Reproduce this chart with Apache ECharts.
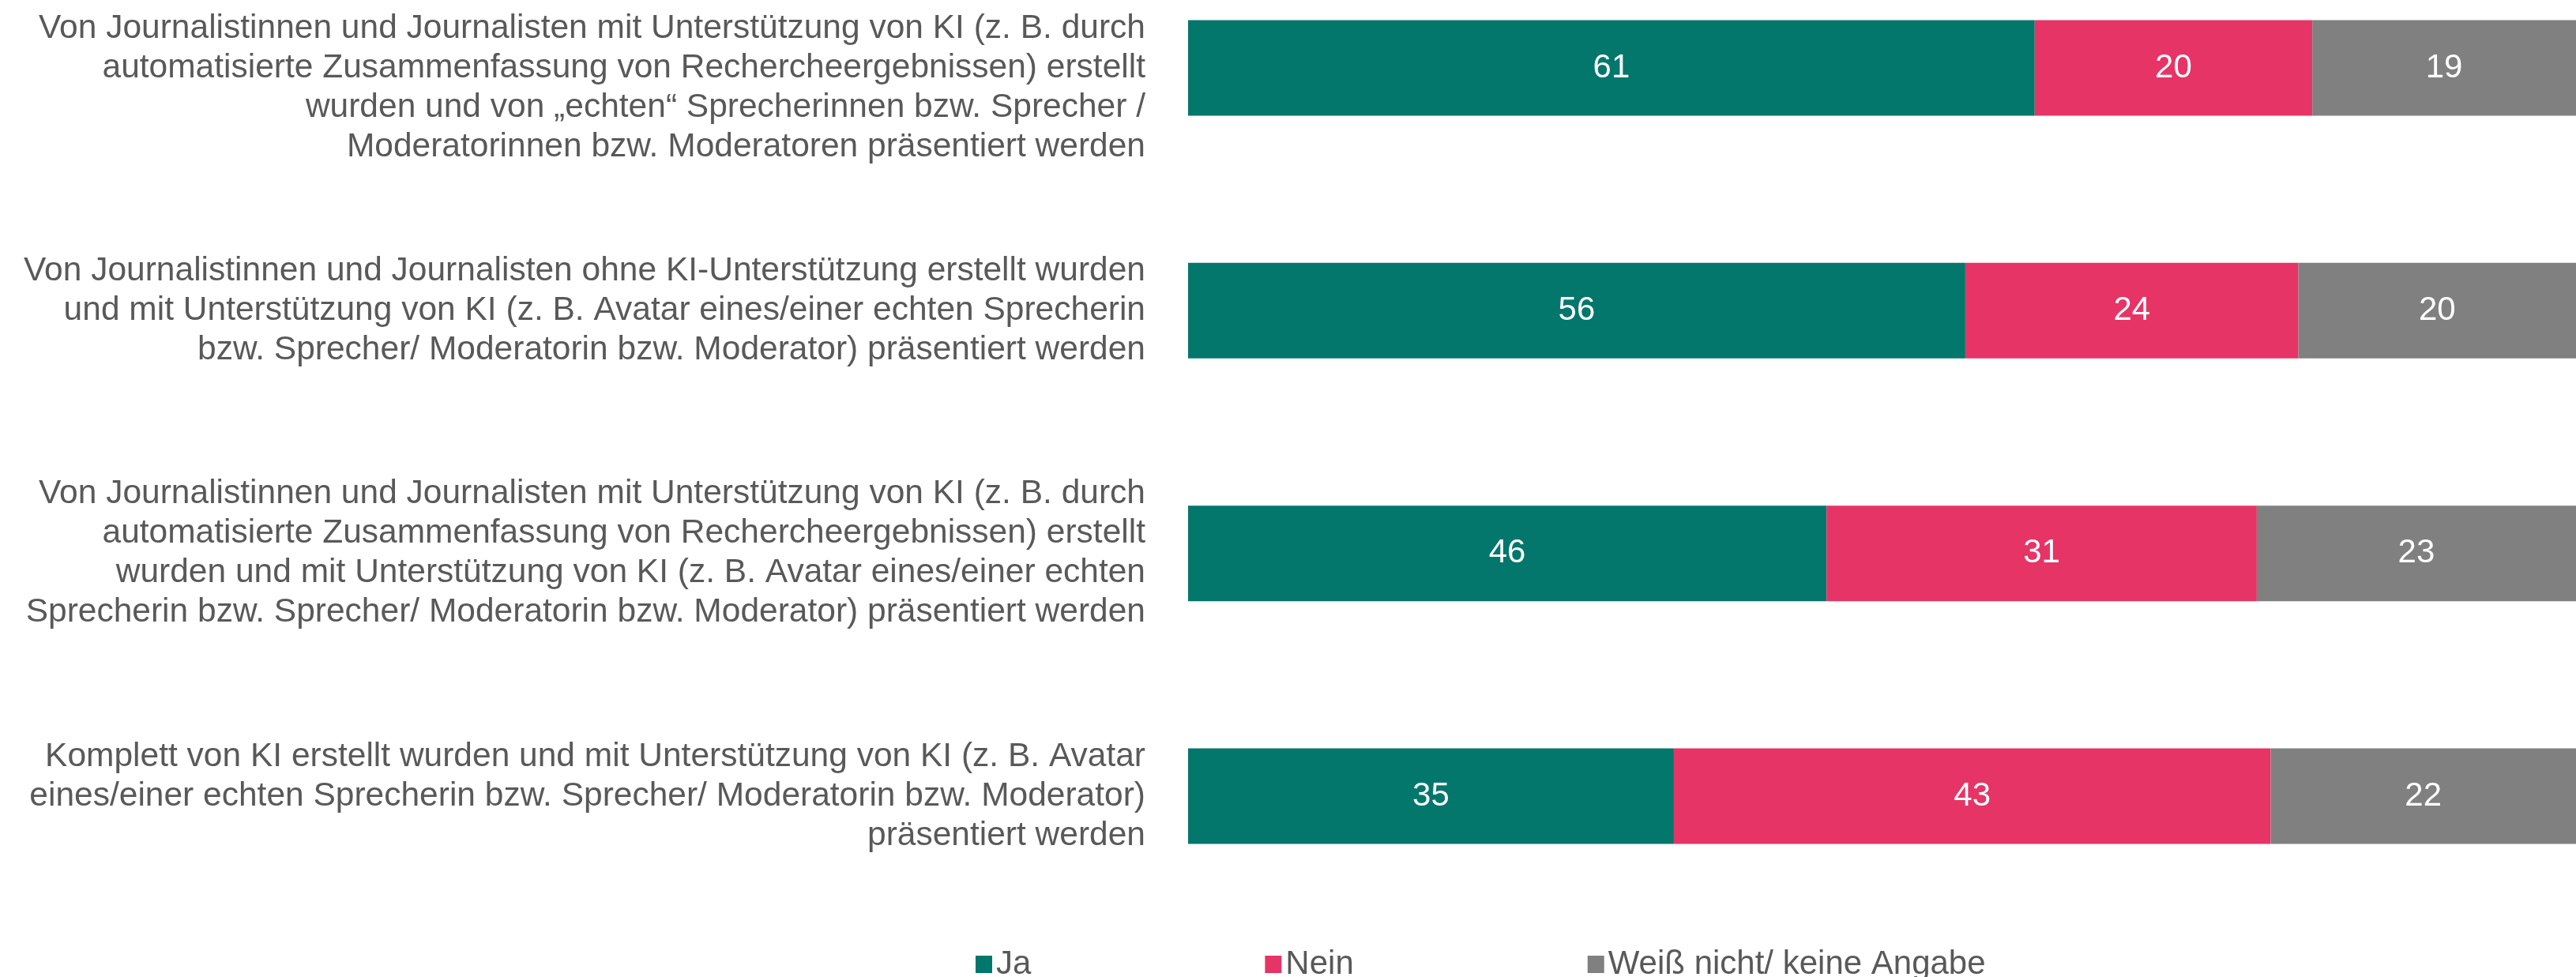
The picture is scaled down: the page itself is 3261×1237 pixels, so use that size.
<!DOCTYPE html>
<html>
<head>
<meta charset="utf-8">
<script src="https://cdn.jsdelivr.net/npm/echarts@6/dist/echarts.min.js"></script>
<style>
  html, body { margin: 0; padding: 0; background: #fff; }
  #chart { width: 3261px; height: 1237px; }
</style>
</head>
<body>
<div id="chart"></div>
<script>
// categories (top to bottom)
const categories = [
  "Von Journalistinnen und Journalisten mit Unterstützung von KI (z. B. durch\nautomatisierte Zusammenfassung von Rechercheergebnissen) erstellt\nwurden und von „echten“ Sprecherinnen bzw. Sprecher /\nModeratorinnen bzw. Moderatoren präsentiert werden",
  "Von Journalistinnen und Journalisten ohne KI-Unterstützung erstellt wurden\nund mit Unterstützung von KI (z. B. Avatar eines/einer echten Sprecherin\nbzw. Sprecher/ Moderatorin bzw. Moderator) präsentiert werden",
  "Von Journalistinnen und Journalisten mit Unterstützung von KI (z. B. durch\nautomatisierte Zusammenfassung von Rechercheergebnissen) erstellt\nwurden und mit Unterstützung von KI (z. B. Avatar eines/einer echten\nSprecherin bzw. Sprecher/ Moderatorin bzw. Moderator) präsentiert werden",
  "Komplett von KI erstellt wurden und mit Unterstützung von KI (z. B. Avatar\neines/einer echten Sprecherin bzw. Sprecher/ Moderatorin bzw. Moderator)\npräsentiert werden"
];

const jaValues = [61, 56, 46, 35];
const neinValues = [20, 24, 31, 43];
const weissNichtValues = [19, 20, 23, 22];

const seriesNames = ["Ja", "Nein", "Weiß nicht/ keine Angabe"];
const seriesColors = ["#04776d", "#e63467", "#808080"];

let chart = echarts.init(document.getElementById("chart"));

function makeSerie(name, data, color) {
  return {
    name: name,
    type: "bar",
    stack: "total",
    barWidth: 121,
    data: data,
    itemStyle: { color: color },
    label: {
      show: true,
      position: "inside",
      color: "#fff",
      fontSize: 42,
      fontFamily: "Liberation Sans, Arial, sans-serif",
    },
  };
}

let option = {
  animation: false,
  textStyle: { fontFamily: "Liberation Sans, Arial, sans-serif" },
  grid: {
    left: 1504,
    right: 0,
    top: 86,
    bottom: 229,
    outerBoundsMode: "none",
  },
  legend: {
    data: seriesNames,
    left: 1230,
    top: 1195,
    itemWidth: 21,
    itemHeight: 22,
    itemGap: 296,
    icon: "rect",
    textStyle: {
      color: "#595959",
      fontSize: 42,
    },
  },
  xAxis: {
    type: "value",
    min: 0,
    max: 100,
    show: false,
  },
  yAxis: {
    type: "category",
    inverse: true,
    boundaryGap: false,
    data: categories,
    axisLine: { show: false },
    axisTick: { show: false },
    splitLine: { show: false },
    axisLabel: {
      margin: 54,
      color: "#595959",
      fontSize: 42.5,
      lineHeight: 50,
      align: "right",
      // first label is pushed down half a line so it stays on the page
      formatter: (value, index) => (index === 0 ? "\n" + value : value),
    },
  },
  series: [
    makeSerie(seriesNames[0], jaValues, seriesColors[0]),
    makeSerie(seriesNames[1], neinValues, seriesColors[1]),
    makeSerie(seriesNames[2], weissNichtValues, seriesColors[2]),
  ],
};

chart.setOption(option);
</script>
</body>
</html>
